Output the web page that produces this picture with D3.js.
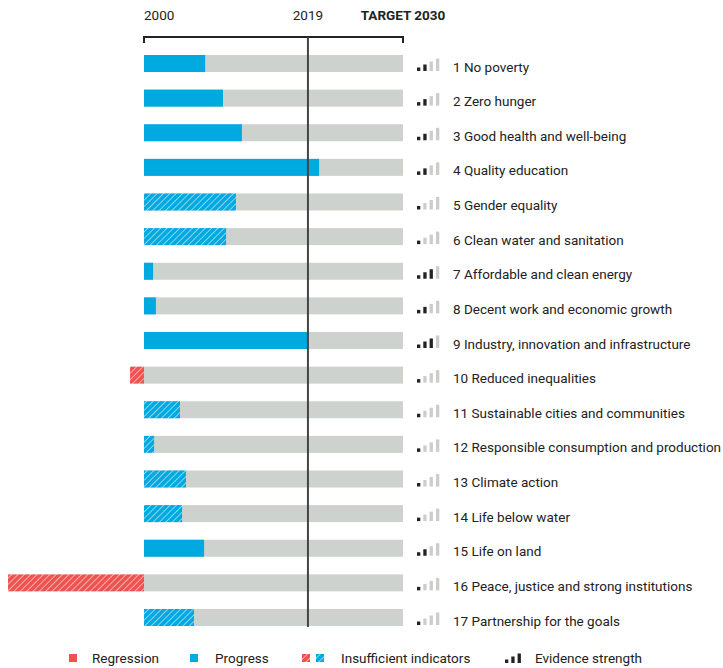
<!DOCTYPE html>
<html>
<head>
<meta charset="utf-8">
<script src="https://cdn.jsdelivr.net/npm/d3@7"></script>
<style>
  body { margin: 0; background: #fff; }
  svg { display: block; font-family: Roboto, "Noto Sans", sans-serif; }
</style>
</head>
<body>
<div id="chart"></div>
<script>
// goals, progress (share of distance to 2030 target covered), type, evidence strength (1-4)
const goals = [
  "1 No poverty", "2 Zero hunger", "3 Good health and well-being", "4 Quality education",
  "5 Gender equality", "6 Clean water and sanitation", "7 Affordable and clean energy",
  "8 Decent work and economic growth", "9 Industry, innovation and infrastructure",
  "10 Reduced inequalities", "11 Sustainable cities and communities",
  "12 Responsible consumption and production", "13 Climate action", "14 Life below water",
  "15 Life on land", "16 Peace, justice and strong institutions", "17 Partnership for the goals"
];
const progress = [23.6, 30.5, 37.8, 67.6, 35.5, 31.7, 3.5, 4.6, 63.3, -5.4, 13.9, 3.9, 16.2, 14.7, 23.2, -52.5, 19.3];
const insufficient = [false, false, false, false, true, true, false, false, false, true, true, true, true, true, false, true, true];
const evidence = [2, 2, 2, 2, 1, 1, 3, 2, 3, 1, 1, 1, 1, 1, 2, 1, 1];
const yearTicks = [{ v: 0, label: "2000" }, { v: 63.3, label: "2019" }, { v: 100, label: "TARGET 2030" }];
const legendItems = ["Regression", "Progress", "Insufficient indicators", "Evidence strength"];

const width = 723, height = 668;
const blue = "#00a9e0", red = "#ef5350", grey = "#cdd2ce", dark = "#222";
const fontSize = "13.5px";

const svg = d3.select("#chart").append("svg")
  .attr("width", width).attr("height", height);

const defs = svg.append("defs");
function hatch(id, color) {
  const p = defs.append("pattern")
    .attr("id", id)
    .attr("patternUnits", "userSpaceOnUse")
    .attr("width", 4.5).attr("height", 4.5)
    .attr("patternTransform", "rotate(45)");
  p.append("rect").attr("width", 4.5).attr("height", 4.5).attr("fill", color);
  p.append("line").attr("x1", 0).attr("y1", 0).attr("x2", 0).attr("y2", 4.5)
    .attr("stroke", "#fff").attr("stroke-width", 1.3).attr("stroke-opacity", 0.8);
}
hatch("hatch-blue", blue);
hatch("hatch-red", red);

const x = d3.scaleLinear().domain([0, 100]).range([144, 403]);
const y = d3.scalePoint().domain(goals).range([63.5, 617.5]);
const barH = 17;

const data = goals.map((g, i) => ({ goal: g, value: progress[i], hatched: insufficient[i], ev: evidence[i] }));

// header years
svg.selectAll(".year")
  .data(yearTicks)
  .join("text")
  .attr("x", d => x(d.v))
  .attr("y", 20)
  .attr("text-anchor", (d, i) => i === 0 ? "start" : "middle")
  .attr("font-size", fontSize)
  .attr("font-weight", (d, i) => i === 2 ? "bold" : "normal")
  .attr("fill", dark)
  .text(d => d.label);

// bracket
svg.append("path")
  .attr("d", `M${x(0)},43V37H${x(100)}V43`)
  .attr("fill", "none")
  .attr("stroke", dark)
  .attr("stroke-width", 2);

// background bars
svg.selectAll(".bg")
  .data(data)
  .join("rect")
  .attr("x", x(0))
  .attr("y", d => y(d.goal) - barH / 2)
  .attr("width", x(100) - x(0))
  .attr("height", barH)
  .attr("fill", grey);

// progress bars
svg.selectAll(".bar")
  .data(data)
  .join("rect")
  .attr("x", d => x(Math.min(0, d.value)))
  .attr("y", d => y(d.goal) - barH / 2)
  .attr("width", d => Math.abs(x(d.value) - x(0)))
  .attr("height", barH)
  .attr("fill", d => {
    const neg = d.value < 0;
    if (d.hatched) return neg ? "url(#hatch-red)" : "url(#hatch-blue)";
    return neg ? red : blue;
  });

// 2019 line
svg.append("line")
  .attr("x1", x(63.3)).attr("x2", x(63.3))
  .attr("y1", 37).attr("y2", 627)
  .attr("stroke", "#444")
  .attr("stroke-width", 2);

// evidence strength icons
const evX = [417, 423.3, 429.6, 436], evH = [3.5, 6.5, 9.5, 12.5];
function evidenceIcon(sel, level, bottom) {
  sel.selectAll("rect")
    .data(d3.range(4))
    .join("rect")
    .attr("x", k => evX[k])
    .attr("y", k => bottom - evH[k])
    .attr("width", 3.3)
    .attr("height", k => evH[k])
    .attr("fill", k => k < level ? dark : "#c9cec9");
}
svg.selectAll(".ev")
  .data(data)
  .join("g")
  .attr("class", "ev")
  .each(function(d) { evidenceIcon(d3.select(this), d.ev, y(d.goal) + 7.5); });

// goal labels
svg.selectAll(".label")
  .data(data)
  .join("text")
  .attr("x", 453)
  .attr("y", d => y(d.goal) + 8)
  .attr("font-size", fontSize)
  .attr("fill", dark)
  .text(d => d.goal);

// legend
const ly = 658;
svg.append("rect").attr("x", 69).attr("y", ly - 4).attr("width", 8).attr("height", 8).attr("fill", red);
svg.append("rect").attr("x", 190).attr("y", ly - 4).attr("width", 8).attr("height", 8).attr("fill", blue);
svg.append("rect").attr("x", 302).attr("y", ly - 4).attr("width", 8).attr("height", 8).attr("fill", "url(#hatch-red)");
svg.append("rect").attr("x", 316).attr("y", ly - 4).attr("width", 8).attr("height", 8).attr("fill", "url(#hatch-blue)");
const legG = svg.append("g").attr("transform", "translate(88,0)");
evidenceIcon(legG, 3, ly + 5);
legG.selectAll("rect").filter(k => k === 3).remove();

svg.selectAll(".leg")
  .data(legendItems)
  .join("text")
  .attr("x", (d, i) => [92, 215, 341, 535][i])
  .attr("y", ly)
  .attr("dy", "0.35em")
  .attr("font-size", fontSize)
  .attr("fill", dark)
  .text(d => d);
</script>
</body>
</html>
